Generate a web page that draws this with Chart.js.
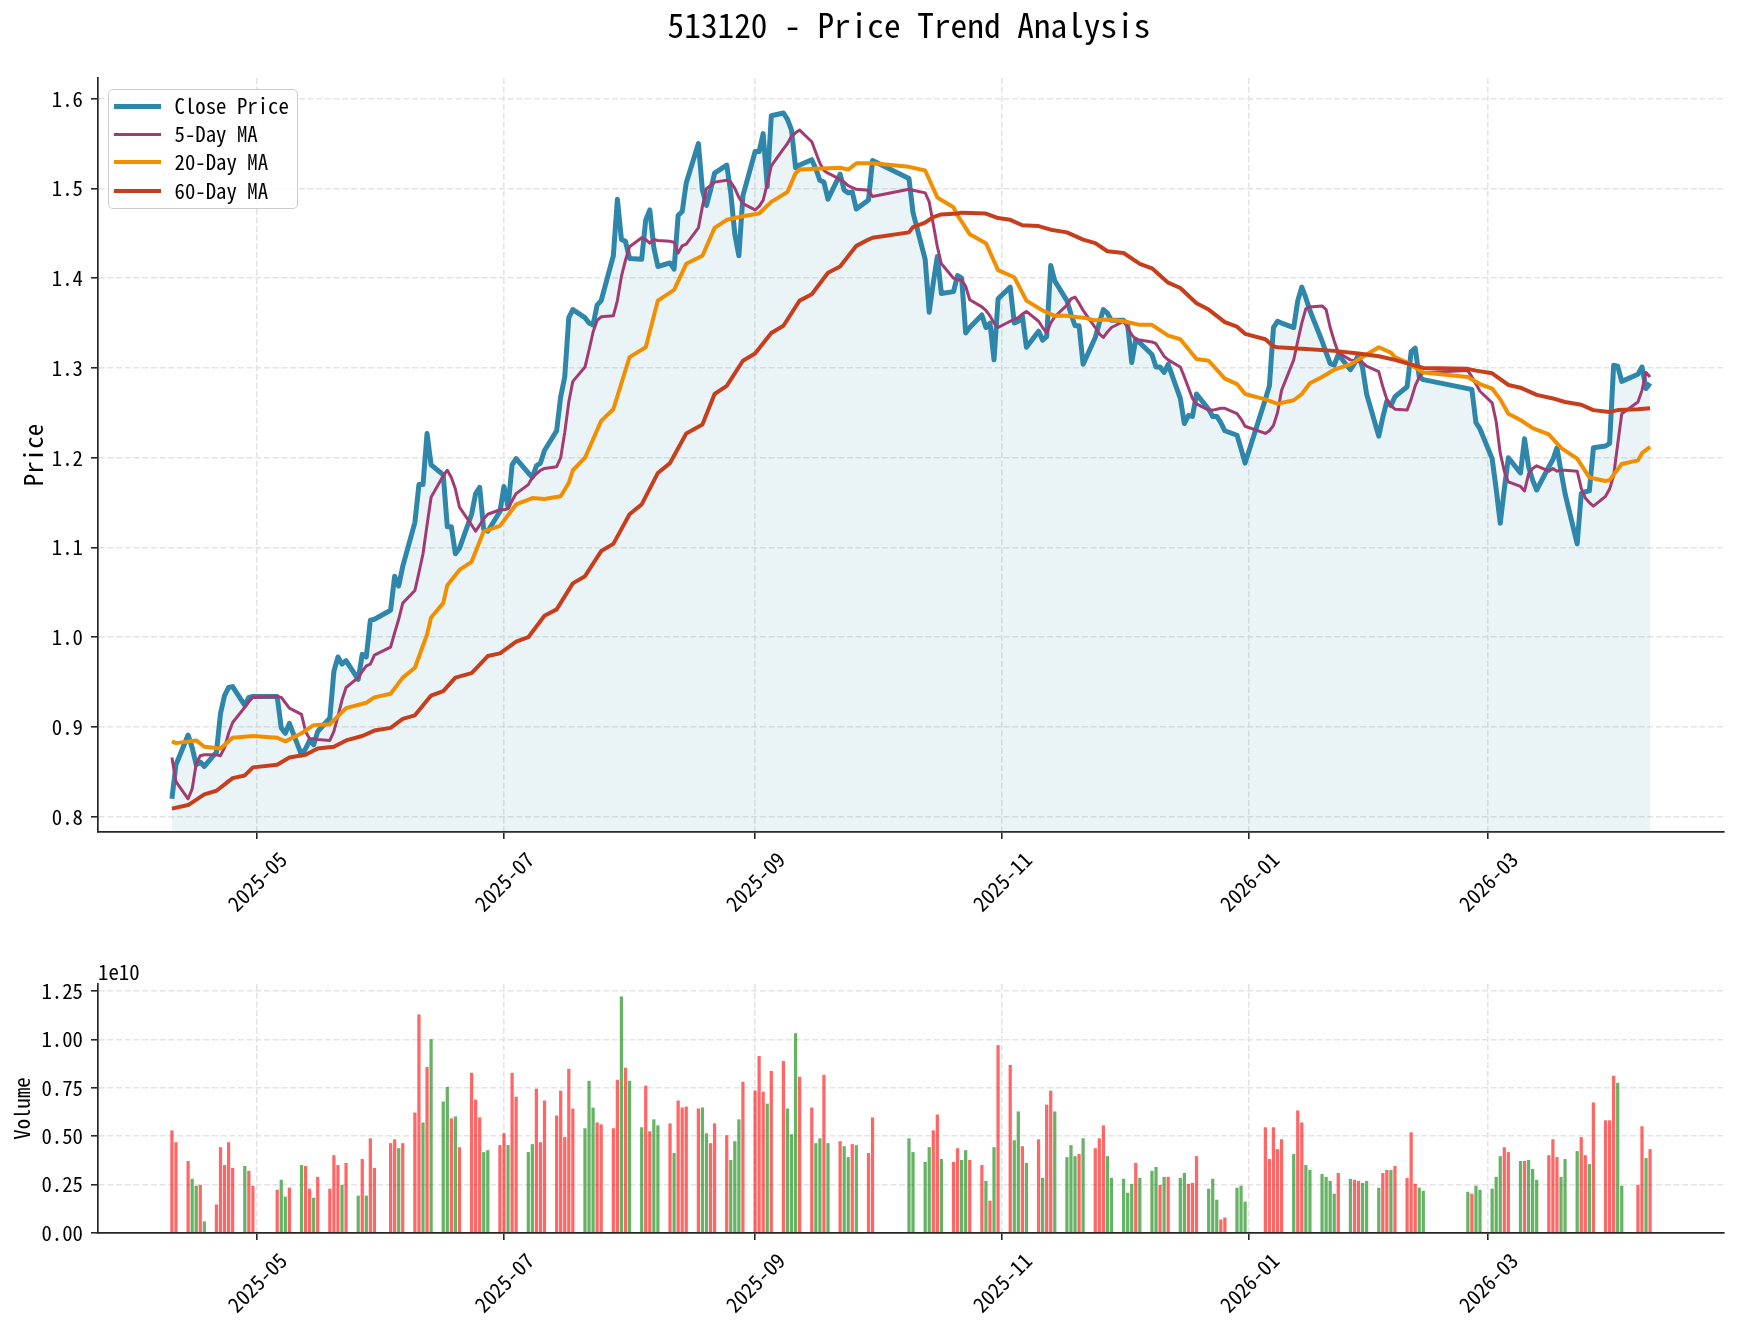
<!DOCTYPE html>
<html><head><meta charset="utf-8"><title>513120 - Price Trend Analysis</title>
<script src="https://cdn.jsdelivr.net/npm/chart.js@4.4.1/dist/chart.umd.min.js"></script>
<style>
html,body{margin:0;padding:0;background:#fff;}
#fig{position:relative;width:1740px;height:1328px;overflow:hidden;background:#fff;font-family:'Noto Sans Mono CJK SC','Noto Sans Mono CJK JP','DejaVu Sans Mono',monospace;color:#000;}
#title{position:absolute;left:0;top:7px;width:1818px;text-align:center;font-size:33.3px;line-height:33.3px;white-space:pre;}
#cPrice{position:absolute;left:0;top:0;}
#cVol{position:absolute;left:0;top:950px;}
#legend{position:absolute;left:108px;top:89px;width:190px;height:120px;box-sizing:border-box;border:1.5px solid #cccccc;border-radius:5px;background:rgba(255,255,255,0.8);}
.row{position:absolute;left:0;height:28.4px;width:100%;}
.sw{position:absolute;left:4.5px;width:47px;top:50%;}
.lb{position:absolute;left:65.5px;top:-1px;font-size:20.8px;line-height:28.4px;white-space:pre;}
#offset{position:absolute;left:98px;top:961px;font-size:20.8px;line-height:20.8px;white-space:pre;}
</style></head>
<body>
<div id="fig">
<canvas id="cPrice" width="1740" height="950"></canvas>
<canvas id="cVol" width="1740" height="378"></canvas>
<div id="title">513120 - Price Trend Analysis</div>
<div id="legend"></div>
<div id="offset">1e10</div>
</div>
<script>
// ---------------- data ----------------
const dates = [
"2025-04-10","2025-04-11","2025-04-14","2025-04-15","2025-04-16","2025-04-17","2025-04-18","2025-04-21","2025-04-22","2025-04-23","2025-04-24","2025-04-25","2025-04-28","2025-04-29","2025-04-30",
"2025-05-06","2025-05-07","2025-05-08","2025-05-09","2025-05-12","2025-05-13","2025-05-14","2025-05-15","2025-05-16","2025-05-19","2025-05-20","2025-05-21","2025-05-22","2025-05-23","2025-05-26","2025-05-27","2025-05-28","2025-05-29","2025-05-30",
"2025-06-03","2025-06-04","2025-06-05","2025-06-06","2025-06-09","2025-06-10","2025-06-11","2025-06-12","2025-06-13","2025-06-16","2025-06-17","2025-06-18","2025-06-19","2025-06-20","2025-06-23","2025-06-24","2025-06-25","2025-06-26","2025-06-27","2025-06-30",
"2025-07-01","2025-07-02","2025-07-03","2025-07-04","2025-07-07","2025-07-08","2025-07-09","2025-07-10","2025-07-11","2025-07-14","2025-07-15","2025-07-16","2025-07-17","2025-07-18","2025-07-21","2025-07-22","2025-07-23","2025-07-24","2025-07-25","2025-07-28","2025-07-29","2025-07-30","2025-07-31",
"2025-08-01","2025-08-04","2025-08-05","2025-08-06","2025-08-07","2025-08-08","2025-08-11","2025-08-12","2025-08-13","2025-08-14","2025-08-15","2025-08-18","2025-08-19","2025-08-20","2025-08-21","2025-08-22","2025-08-25","2025-08-26","2025-08-27","2025-08-28","2025-08-29",
"2025-09-01","2025-09-02","2025-09-03","2025-09-04","2025-09-05","2025-09-08","2025-09-09","2025-09-10","2025-09-11","2025-09-12","2025-09-15","2025-09-16","2025-09-17","2025-09-18","2025-09-19","2025-09-22","2025-09-23","2025-09-24","2025-09-25","2025-09-26","2025-09-29","2025-09-30",
"2025-10-09","2025-10-10","2025-10-13","2025-10-14","2025-10-15","2025-10-16","2025-10-17","2025-10-20","2025-10-21","2025-10-22","2025-10-23","2025-10-24","2025-10-27","2025-10-28","2025-10-29","2025-10-30","2025-10-31",
"2025-11-03","2025-11-04","2025-11-05","2025-11-06","2025-11-07","2025-11-10","2025-11-11","2025-11-12","2025-11-13","2025-11-14","2025-11-17","2025-11-18","2025-11-19","2025-11-20","2025-11-21","2025-11-24","2025-11-25","2025-11-26","2025-11-27","2025-11-28",
"2025-12-01","2025-12-02","2025-12-03","2025-12-04","2025-12-05","2025-12-08","2025-12-09","2025-12-10","2025-12-11","2025-12-12","2025-12-15","2025-12-16","2025-12-17","2025-12-18","2025-12-19","2025-12-22","2025-12-23","2025-12-24","2025-12-25","2025-12-26","2025-12-29","2025-12-30","2025-12-31",
"2026-01-05","2026-01-06","2026-01-07","2026-01-08","2026-01-09","2026-01-12","2026-01-13","2026-01-14","2026-01-15","2026-01-16","2026-01-19","2026-01-20","2026-01-21","2026-01-22","2026-01-23","2026-01-26","2026-01-27","2026-01-28","2026-01-29","2026-01-30",
"2026-02-02","2026-02-03","2026-02-04","2026-02-05","2026-02-06","2026-02-09","2026-02-10","2026-02-11","2026-02-12","2026-02-13","2026-02-24","2026-02-25","2026-02-26","2026-02-27",
"2026-03-02","2026-03-03","2026-03-04","2026-03-05","2026-03-06","2026-03-09","2026-03-10","2026-03-11","2026-03-12","2026-03-13","2026-03-16","2026-03-17","2026-03-18","2026-03-19","2026-03-20","2026-03-23","2026-03-24","2026-03-25","2026-03-26","2026-03-27","2026-03-30","2026-03-31",
"2026-04-01","2026-04-02","2026-04-03","2026-04-07","2026-04-08","2026-04-09","2026-04-10"
];

const close = [
0.820,0.858,0.891,0.877,0.858,0.861,0.856,0.872,0.915,0.935,0.944,0.945,0.924,0.933,0.934,
0.934,0.899,0.893,0.904,0.869,0.876,0.885,0.880,0.895,0.910,0.962,0.978,0.970,0.974,0.953,0.981,0.978,1.019,1.020,
1.030,1.068,1.057,1.079,1.128,1.170,1.170,1.227,1.192,1.181,1.123,1.123,1.093,1.099,1.137,1.160,1.167,1.120,1.118,1.140,
1.168,1.145,1.192,1.199,1.183,1.178,1.191,1.194,1.208,1.230,1.268,1.290,1.356,1.365,1.356,1.350,1.348,1.370,1.375,1.425,1.488,1.443,1.441,
1.422,1.421,1.465,1.476,1.434,1.413,1.417,1.410,1.470,1.474,1.506,1.550,1.498,1.481,1.498,1.517,1.526,1.495,1.449,1.425,1.492,
1.541,1.541,1.561,1.502,1.581,1.584,1.577,1.565,1.523,1.526,1.532,1.522,1.509,1.507,1.488,1.516,1.498,1.495,1.496,1.477,1.487,1.531,
1.511,1.473,1.421,1.362,1.395,1.424,1.383,1.385,1.403,1.400,1.339,1.345,1.359,1.345,1.350,1.309,1.377,
1.390,1.350,1.352,1.358,1.323,1.341,1.331,1.335,1.414,1.397,1.375,1.360,1.347,1.347,1.304,1.334,1.350,1.365,1.361,1.353,
1.353,1.348,1.306,1.332,1.328,1.315,1.301,1.301,1.295,1.304,1.266,1.238,1.247,1.246,1.271,1.254,1.246,1.246,1.239,1.230,1.225,1.210,1.194,
1.265,1.280,1.345,1.352,1.350,1.345,1.375,1.390,1.378,1.364,1.330,1.317,1.305,1.303,1.315,1.298,1.305,1.315,1.300,1.271,
1.224,1.245,1.263,1.258,1.268,1.279,1.318,1.322,1.290,1.287,1.277,1.276,1.239,1.232,
1.199,1.165,1.127,1.165,1.200,1.183,1.221,1.190,1.175,1.164,1.190,1.198,1.211,1.185,1.160,1.104,1.160,1.162,1.163,1.211,1.213,1.216,
1.303,1.302,1.285,1.293,1.301,1.277,1.283
];

const ma5 = [
0.866,0.839,0.820,0.831,0.859,0.868,0.869,0.869,0.868,0.877,0.893,0.905,0.922,0.928,0.933,
0.934,0.933,0.927,0.921,0.914,0.895,0.887,0.887,0.886,0.885,0.895,0.912,0.930,0.944,0.955,0.962,0.968,0.970,0.980,
0.989,1.005,1.020,1.038,1.052,1.072,1.093,1.125,1.156,1.180,1.186,1.178,1.165,1.145,1.125,1.118,1.125,1.132,1.137,1.142,
1.142,1.143,1.152,1.160,1.170,1.178,1.182,1.186,1.188,1.190,1.200,1.228,1.262,1.285,1.301,1.320,1.340,1.353,1.357,1.358,1.375,1.402,1.420,
1.435,1.445,1.443,1.439,1.443,1.442,1.441,1.440,1.428,1.436,1.438,1.456,1.480,1.500,1.503,1.507,1.509,1.507,1.500,1.490,1.483,
1.476,1.480,1.487,1.505,1.525,1.544,1.550,1.558,1.562,1.565,1.552,1.540,1.528,1.520,1.517,1.510,1.507,1.503,1.501,1.499,1.498,1.491,
1.499,1.498,1.495,1.485,1.460,1.435,1.416,1.400,1.398,1.398,1.391,1.376,1.368,1.364,1.358,1.350,1.345,
1.352,1.354,1.356,1.360,1.363,1.352,1.345,1.339,1.350,1.357,1.370,1.377,1.379,1.372,1.364,1.345,1.338,1.334,1.340,1.345,
1.352,1.345,1.337,1.332,1.331,1.329,1.327,1.320,1.313,1.309,1.301,1.290,1.278,1.266,1.260,1.253,1.253,1.254,1.255,1.255,1.249,1.243,1.235,
1.227,1.230,1.236,1.250,1.275,1.309,1.330,1.350,1.366,1.368,1.369,1.365,1.345,1.330,1.317,1.309,1.308,1.307,1.306,1.302,
1.296,1.279,1.265,1.258,1.254,1.253,1.265,1.280,1.290,1.295,1.297,1.290,1.282,1.274,
1.261,1.240,1.205,1.185,1.173,1.168,1.163,1.182,1.188,1.191,1.185,1.188,1.185,1.186,1.186,1.185,1.166,1.155,1.150,1.146,1.157,1.165,
1.180,1.215,1.249,1.262,1.275,1.295,1.290
];

const ma20Dates = ["2025-04-10","2025-04-11","2025-04-16","2025-04-18","2025-04-22","2025-04-25","2025-04-30","2025-05-06","2025-05-08","2025-05-12","2025-05-15","2025-05-19","2025-05-23","2025-05-28","2025-05-30","2025-06-03","2025-06-06","2025-06-09","2025-06-12","2025-06-13","2025-06-16","2025-06-17","2025-06-20","2025-06-23","2025-06-26","2025-06-30","2025-07-03","2025-07-04","2025-07-08","2025-07-11","2025-07-15","2025-07-17","2025-07-18","2025-07-21","2025-07-25","2025-07-28","2025-08-01","2025-08-05","2025-08-08","2025-08-12","2025-08-15","2025-08-19","2025-08-22","2025-08-25","2025-08-29","2025-09-02","2025-09-05","2025-09-09","2025-09-11","2025-09-12","2025-09-16","2025-09-22","2025-09-24","2025-09-26","2025-09-30","2025-10-09","2025-10-13","2025-10-16","2025-10-17","2025-10-20","2025-10-21","2025-10-24","2025-10-28","2025-10-31","2025-11-04","2025-11-07","2025-11-11","2025-11-14","2025-11-17","2025-11-21","2025-11-24","2025-11-27","2025-12-01","2025-12-05","2025-12-08","2025-12-12","2025-12-15","2025-12-19","2025-12-22","2025-12-26","2025-12-29","2025-12-31","2026-01-05","2026-01-08","2026-01-12","2026-01-14","2026-01-16","2026-01-19","2026-01-22","2026-01-26","2026-01-30","2026-02-02","2026-02-05","2026-02-06","2026-02-09","2026-02-13","2026-02-24","2026-02-25","2026-02-27","2026-03-02","2026-03-04","2026-03-06","2026-03-09","2026-03-12","2026-03-16","2026-03-19","2026-03-23","2026-03-26","2026-03-30","2026-03-31","2026-04-03","2026-04-07","2026-04-08","2026-04-10"];
const ma20 = [0.884,0.882,0.885,0.878,0.876,0.888,0.890,0.888,0.884,0.893,0.902,0.903,0.921,0.927,0.933,0.937,0.955,0.966,1.003,1.022,1.038,1.058,1.075,1.084,1.118,1.124,1.142,1.148,1.155,1.154,1.157,1.172,1.186,1.200,1.241,1.254,1.312,1.323,1.375,1.387,1.416,1.425,1.456,1.465,1.469,1.472,1.485,1.496,1.517,1.521,1.522,1.523,1.521,1.528,1.528,1.524,1.520,1.490,1.487,1.479,1.470,1.449,1.439,1.409,1.401,1.375,1.364,1.358,1.358,1.356,1.353,1.354,1.352,1.348,1.348,1.336,1.332,1.310,1.308,1.288,1.282,1.271,1.265,1.260,1.264,1.271,1.283,1.290,1.298,1.304,1.315,1.323,1.317,1.312,1.306,1.295,1.290,1.287,1.282,1.277,1.265,1.249,1.242,1.233,1.226,1.211,1.199,1.178,1.174,1.175,1.193,1.197,1.205,1.212];

const ma60Dates = ["2025-04-10","2025-04-14","2025-04-18","2025-04-21","2025-04-25","2025-04-28","2025-04-30","2025-05-06","2025-05-09","2025-05-13","2025-05-16","2025-05-20","2025-05-23","2025-05-27","2025-05-30","2025-06-03","2025-06-06","2025-06-09","2025-06-13","2025-06-16","2025-06-19","2025-06-23","2025-06-27","2025-06-30","2025-07-04","2025-07-07","2025-07-11","2025-07-14","2025-07-18","2025-07-21","2025-07-25","2025-07-28","2025-08-01","2025-08-04","2025-08-08","2025-08-11","2025-08-15","2025-08-19","2025-08-22","2025-08-25","2025-08-29","2025-09-01","2025-09-05","2025-09-08","2025-09-12","2025-09-15","2025-09-19","2025-09-22","2025-09-26","2025-09-29","2025-09-30","2025-10-09","2025-10-10","2025-10-13","2025-10-15","2025-10-17","2025-10-21","2025-10-22","2025-10-28","2025-10-31","2025-11-03","2025-11-06","2025-11-10","2025-11-13","2025-11-17","2025-11-21","2025-11-24","2025-11-27","2025-12-01","2025-12-05","2025-12-08","2025-12-12","2025-12-15","2025-12-19","2025-12-22","2025-12-26","2025-12-29","2025-12-31","2026-01-05","2026-01-07","2026-01-08","2026-01-15","2026-01-22","2026-01-28","2026-02-02","2026-02-06","2026-02-09","2026-02-13","2026-02-24","2026-02-26","2026-03-02","2026-03-06","2026-03-09","2026-03-13","2026-03-17","2026-03-20","2026-03-24","2026-03-27","2026-03-31","2026-04-02","2026-04-07","2026-04-10"];
const ma60 = [0.809,0.813,0.825,0.829,0.843,0.846,0.855,0.858,0.866,0.869,0.876,0.878,0.885,0.890,0.896,0.899,0.909,0.913,0.935,0.940,0.955,0.960,0.979,0.982,0.995,1.000,1.024,1.031,1.060,1.068,1.096,1.104,1.137,1.148,1.183,1.194,1.227,1.237,1.271,1.280,1.308,1.316,1.339,1.347,1.375,1.382,1.406,1.413,1.436,1.443,1.445,1.451,1.457,1.462,1.468,1.471,1.472,1.473,1.472,1.467,1.465,1.459,1.458,1.454,1.451,1.443,1.439,1.430,1.428,1.416,1.411,1.395,1.389,1.372,1.365,1.351,1.346,1.338,1.332,1.324,1.323,1.321,1.319,1.316,1.313,1.309,1.305,1.300,1.299,1.297,1.294,1.281,1.278,1.270,1.266,1.262,1.259,1.253,1.251,1.253,1.254,1.255];

// volume in units of 1e10 shares
const volumeE10 = [
0.530,0.469,0.372,0.280,0.244,0.249,0.060,0.147,0.443,0.351,0.469,0.336,0.346,0.321,0.244,
0.223,0.275,0.188,0.234,0.351,0.346,0.229,0.182,0.290,0.229,0.402,0.351,0.249,0.362,0.193,0.382,0.193,0.489,0.336,
0.464,0.484,0.438,0.464,0.622,1.129,0.571,0.858,1.001,0.679,0.755,0.592,0.602,0.443,0.827,0.689,0.597,0.418,0.428,0.454,
0.515,0.454,0.827,0.704,0.418,0.459,0.745,0.469,0.684,0.607,0.735,0.495,0.848,0.643,0.541,0.786,0.648,0.571,0.561,0.541,0.791,1.221,0.853,
0.786,0.546,0.761,0.525,0.587,0.556,0.566,0.413,0.684,0.648,0.653,0.643,0.648,0.515,0.464,0.566,0.505,0.377,0.474,0.587,0.781,
0.735,0.914,0.730,0.668,0.837,0.888,0.643,0.510,1.032,0.807,0.648,0.464,0.489,0.817,0.464,0.474,0.448,0.392,0.459,0.454,0.413,0.597,
0.489,0.418,0.367,0.443,0.530,0.612,0.382,0.367,0.438,0.377,0.428,0.377,0.351,0.269,0.167,0.443,0.970,
0.868,0.479,0.628,0.448,0.362,0.484,0.285,0.663,0.735,0.628,0.392,0.454,0.397,0.408,0.489,0.438,0.489,0.556,0.397,0.285,
0.280,0.208,0.254,0.362,0.285,0.321,0.341,0.249,0.290,0.290,0.285,0.310,0.254,0.259,0.397,0.229,0.280,0.172,0.070,0.080,0.234,0.244,0.162,
0.546,0.382,0.546,0.433,0.484,0.408,0.633,0.571,0.351,0.326,0.305,0.290,0.269,0.203,0.310,0.280,0.275,0.269,0.259,0.269,
0.234,0.310,0.326,0.326,0.346,0.285,0.520,0.254,0.234,0.218,0.213,0.203,0.244,0.223,
0.229,0.290,0.397,0.443,0.418,0.372,0.372,0.377,0.331,0.275,0.402,0.484,0.392,0.290,0.382,0.423,0.495,0.402,0.356,0.674,0.582,0.582,
0.812,0.776,0.244,0.249,0.551,0.387,0.433
];
// 1 = up day (red bar), 0 = down day (green bar)
const volUp = [
1,1,1,0,0,1,0,1,1,1,1,1,0,1,1,
1,0,0,1,0,1,1,0,1,1,1,1,0,1,0,1,0,1,1,
1,1,0,1,1,1,0,1,0,0,0,1,0,1,1,1,1,0,0,1,
1,0,1,1,0,0,1,1,1,1,1,1,1,1,0,0,0,1,1,1,1,0,1,
0,0,1,1,0,0,1,0,1,1,1,1,0,0,1,1,1,0,0,0,1,
1,1,1,0,1,1,0,0,0,1,1,0,0,1,0,1,0,0,1,0,1,1,
0,0,0,0,1,1,0,1,1,0,0,1,1,0,1,0,1,
1,0,0,1,0,1,0,1,1,0,0,0,0,1,0,1,1,1,0,0,
0,0,0,1,0,0,0,1,0,1,0,0,1,1,1,0,0,0,1,1,0,0,0,
1,1,1,1,1,0,1,1,0,0,0,0,0,0,1,0,1,1,0,0,
0,1,1,0,1,1,1,1,0,0,0,1,0,0,
0,0,0,1,1,0,1,0,0,0,1,1,1,0,0,0,1,1,0,1,1,1,
1,0,0,1,1,0,1
];

const xTickLabels = ["2025-05","2025-07","2025-09","2025-11","2026-01","2026-03"];
const priceTicks = [0.8,0.9,1.0,1.1,1.2,1.3,1.4,1.5,1.6];
const volumeTicks = [0,0.25e10,0.5e10,0.75e10,1.0e10,1.25e10];
const seriesNames = ["Close Price","5-Day MA","20-Day MA","60-Day MA"];
const seriesColors = ["#2E86AB","#A23B72","#F18F01","#C73E1D"];
const seriesWidths = [5,3,4,4];

// ---------------- helpers ----------------
if (close.length!==dates.length||ma5.length!==dates.length||volumeE10.length!==dates.length||volUp.length!==dates.length||ma20.length!==ma20Dates.length||ma60.length!==ma60Dates.length){
  console.error('length mismatch', dates.length, close.length, ma5.length, volumeE10.length, volUp.length, ma20.length, ma20Dates.length, ma60.length, ma60Dates.length);
}
const dayNum = s => Date.UTC(+s.slice(0,4), +s.slice(5,7)-1, +(s.slice(8,10)||1)) / 864e5;
const pts = (ds, vs) => ds.map((d,i)=>({x: dayNum(d), y: vs[i]}));
const xFirst = dayNum(dates[0]), xLast = dayNum(dates[dates.length-1]);
const xMargin = (xLast - xFirst) * 0.05;

const FONT = "'Noto Sans Mono CJK SC','Noto Sans Mono CJK JP','DejaVu Sans Mono',monospace";
Chart.defaults.font.family = FONT;
Chart.defaults.color = '#000';

const gridOpts = () => ({color:'#e4e4e4', lineWidth:1.6, drawTicks:true, tickLength:7, tickColor:'#262626', tickWidth:1.6, tickBorderDash:[], offset:false});
const borderOpts = () => ({display:true, color:'#262626', width:1.7, dash:[6,2.7]});

function xAxis(h){
  return {
    type:'linear', min:xFirst - xMargin, max:xLast + xMargin, offset:false, bounds:'data',
    afterBuildTicks: ax => { ax.ticks = xTickLabels.map(l => ({value: dayNum(l)})); },
    afterFit: ax => { ax.height = h; },
    ticks:{autoSkip:false, minRotation:45, maxRotation:45, labelOffset:26, padding:8, font:{size:20.8}, color:'#000',
      callback:(v,i)=> xTickLabels[i]},
    grid: gridOpts(), border: borderOpts()
  };
}

// ---------------- price chart ----------------
new Chart(document.getElementById('cPrice'), {
  type:'line',
  data:{datasets:[
    {label:seriesNames[0], data:pts(dates, close), borderColor:seriesColors[0], borderWidth:seriesWidths[0], backgroundColor:'rgba(46,134,171,0.1)', fill:'start', order:4},
    {label:seriesNames[1], data:pts(dates, ma5), borderColor:seriesColors[1], borderWidth:seriesWidths[1], fill:false, order:3},
    {label:seriesNames[2], data:pts(ma20Dates, ma20), borderColor:seriesColors[2], borderWidth:seriesWidths[2], fill:false, order:2},
    {label:seriesNames[3], data:pts(ma60Dates, ma60), borderColor:seriesColors[3], borderWidth:seriesWidths[3], fill:false, order:1}
  ]},
  options:{
    responsive:false, animation:false, devicePixelRatio:1,
    layout:{padding:{left:0, top:78, right:16, bottom:0}},
    plugins:{legend:{display:false}, tooltip:{enabled:false}},
    elements:{line:{tension:0, borderJoinStyle:'round', borderCapStyle:'butt'}, point:{radius:0, hoverRadius:0}},
    scales:{
      x: xAxis(118),
      y:{type:'linear', min:0.783, max:1.623, bounds:'data',
        afterBuildTicks: ax => { ax.ticks = priceTicks.map(v=>({value:v})); },
        afterFit: ax => { ax.width = 98; },
        ticks:{font:{size:20.8}, color:'#000', padding:8, callback:v=>Number(v).toFixed(1)},
        grid:gridOpts(), border:borderOpts(),
        title:{display:true, text:'Price', font:{size:25, lineHeight:1.2}, color:'#000', padding:{top:18,bottom:0}}
      }
    }
  }
});

// ---------------- volume chart ----------------
new Chart(document.getElementById('cVol'), {
  type:'bar',
  data:{datasets:[{
    label:'Volume',
    data: dates.map((d,i)=>({x:dayNum(d), y:volumeE10[i]*1e10})),
    backgroundColor: volUp.map(u => u ? 'rgba(255,0,0,0.6)' : 'rgba(0,128,0,0.6)'),
    borderWidth:0, categoryPercentage:0.8, barPercentage:1.0
  }]},
  options:{
    responsive:false, animation:false, devicePixelRatio:1,
    layout:{padding:{left:0, top:34, right:16, bottom:0}},
    plugins:{legend:{display:false}, tooltip:{enabled:false}},
    scales:{
      x: xAxis(95),
      y:{type:'linear', min:0, max:1.286e10, bounds:'data',
        afterBuildTicks: ax => { ax.ticks = volumeTicks.map(v=>({value:v})); },
        afterFit: ax => { ax.width = 98; },
        ticks:{font:{size:20.8}, color:'#000', padding:8, callback:v=>(v/1e10).toFixed(2)},
        grid:gridOpts(), border:borderOpts(),
        title:{display:true, text:'Volume', font:{size:20.8, lineHeight:1.2}, color:'#000', padding:{top:9.5,bottom:0}}
      }
    }
  }
});

// ---------------- legend (HTML, real text) ----------------
const rowTops = [2.3, 30.3, 58.3, 87.3];
const lg = document.getElementById('legend');
seriesNames.forEach((name,i)=>{
  const row = document.createElement('div'); row.className='row'; row.style.top = rowTops[i]+'px';
  const sw = document.createElement('div'); sw.className='sw';
  sw.style.height = seriesWidths[i]+'px'; sw.style.marginTop = (-seriesWidths[i]/2)+'px'; sw.style.background = seriesColors[i];
  const lb = document.createElement('div'); lb.className='lb'; lb.textContent = name;
  row.appendChild(sw); row.appendChild(lb); lg.appendChild(row);
});
</script>
</body></html>
